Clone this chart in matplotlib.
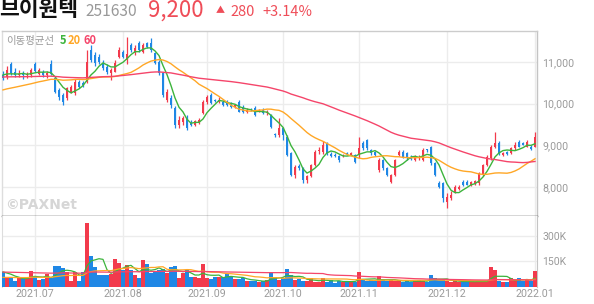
import numpy as np
import matplotlib
matplotlib.use("Agg")
import matplotlib.pyplot as plt

# ---------------- data ----------------
opens = [10700, 10650, 10960, 10770, 10680, 10720, 10680, 10700, 10950, 10720,
         10760, 10680, 10950, 10610, 10330, 10210, 10130, 10290, 10250, 10530,
         10500, 10530, 11290, 11170, 11130, 10970, 10890, 10730, 10770, 11130,
         11250, 11050, 11400, 11210, 11450, 11250, 11450, 11450, 11210, 11010,
         10730, 10090, 10130, 9890, 9490, 9570, 9650, 9530, 9490, 9560,
         9770, 10050, 10210, 10090, 10040, 10050, 10040, 10010, 9930, 10050,
         9930, 9810, 9870, 9890, 9820, 9850, 9780, 9730, 9280, 9250,
         9410, 9210, 8810, 8290, 8500, 8450, 8180, 8260, 8530, 8870,
         8850, 9050, 8790, 8780, 8740, 8750, 8800, 8780, 8770, 8770,
         9050, 9130, 8890, 8850, 8410, 8650, 8450, 8130, 8290, 8770,
         8850, 8810, 8700, 8650, 8690, 8650, 8900, 8970, 8570, 8090,
         8090, 7650, 7730, 7890, 7960, 8130, 8130, 8050, 8080, 8090,
         8290, 8530, 8690, 8970, 9050, 8770, 8840, 8810, 8930, 9090,
         9050, 8970, 8960, 8970]
highs = [10780, 10900, 11000, 10850, 10800, 10780, 10750, 10850, 11000, 10850,
         10800, 10780, 11050, 10650, 10380, 10250, 10400, 10450, 10600, 10560,
         10550, 11300, 11400, 11250, 11200, 11050, 10950, 10850, 11050, 11350,
         11300, 11600, 11450, 11400, 11500, 11450, 11480, 11570, 11250, 11050,
         10760, 10350, 10200, 9950, 9700, 9700, 9720, 9600, 9620, 9650,
         10100, 10200, 10250, 10120, 10150, 10100, 10080, 10050, 10000, 10100,
         9960, 9900, 9900, 9950, 9880, 9900, 9850, 9760, 9300, 9650,
         9450, 9250, 8850, 8520, 8550, 8480, 8300, 8560, 8880, 8950,
         9100, 9080, 8830, 8820, 8780, 8800, 8850, 8840, 8800, 9210,
         9100, 9150, 8920, 8870, 8700, 8680, 8480, 8320, 8680, 8880,
         8880, 8850, 8760, 8760, 8760, 8930, 8920, 8990, 8600, 8150,
         8120, 7850, 7900, 8050, 8050, 8180, 8170, 8150, 8170, 8360,
         8550, 8760, 9000, 9330, 9100, 8850, 8870, 8960, 9080, 9130,
         9090, 9130, 9000, 9330]
lows = [10580, 10600, 10700, 10650, 10650, 10600, 10620, 10650, 10750, 10700,
        10650, 10620, 10700, 10250, 10100, 9980, 10100, 10250, 10200, 10380,
        10400, 10500, 11000, 10900, 10950, 10820, 10720, 10560, 10750, 11100,
        11100, 10950, 11250, 11180, 11250, 11220, 11330, 11250, 10950, 10700,
        10150, 10050, 9900, 9420, 9420, 9500, 9380, 9460, 9460, 9520,
        9750, 10000, 10000, 10040, 10020, 9950, 9950, 9900, 9900, 9800,
        9780, 9780, 9820, 9700, 9800, 9750, 9720, 9420, 9200, 9200,
        9130, 8740, 8270, 8220, 8420, 8100, 8100, 8230, 8500, 8800,
        8800, 8780, 8720, 8720, 8600, 8720, 8760, 8760, 8580, 8700,
        8900, 8900, 8780, 8750, 8350, 8420, 8260, 8100, 8260, 8740,
        8700, 8660, 8640, 8620, 8660, 8620, 8850, 8540, 8260, 7980,
        7650, 7490, 7700, 7860, 7930, 8030, 8040, 8020, 8060, 8060,
        8260, 8500, 8660, 8940, 8780, 8740, 8780, 8790, 8900, 8950,
        9000, 8950, 8900, 8950]
closes = [10620, 10820, 10730, 10680, 10720, 10680, 10720, 10800, 10780, 10800,
          10680, 10740, 10720, 10290, 10170, 10050, 10370, 10410, 10530, 10410,
          10450, 11010, 11050, 10970, 11010, 10850, 10770, 10810, 10970, 11290,
          11130, 11200, 11290, 11330, 11290, 11410, 11370, 11290, 10970, 10730,
          10210, 10290, 9970, 9490, 9610, 9650, 9410, 9490, 9590, 9620,
          10050, 10170, 10010, 10070, 10090, 9970, 9980, 9930, 9960, 9810,
          9810, 9850, 9840, 9730, 9850, 9770, 9800, 9450, 9250, 9410,
          9250, 8770, 8290, 8490, 8450, 8180, 8260, 8530, 8850, 8900,
          9010, 8810, 8750, 8740, 8650, 8780, 8790, 8820, 8610, 8930,
          8930, 8930, 8810, 8770, 8650, 8450, 8290, 8290, 8650, 8850,
          8730, 8690, 8680, 8730, 8730, 8890, 8890, 8570, 8290, 8010,
          7730, 7770, 7810, 8010, 8010, 8050, 8060, 8130, 8150, 8330,
          8530, 8730, 8970, 9050, 8810, 8810, 8800, 8930, 9010, 8970,
          9010, 9090, 8920, 9200]
volumes_k = [88, 54, 54, 35, 54, 52, 52, 92, 60, 40, 46, 75, 50,
             121, 121, 108, 88, 35, 88, 35, 88,
             371,
             179, 117, 69, 69, 69, 75, 165, 140, 100,
             127, 98, 69, 52, 156, 133, 79, 88, 100, 104,
             79, 114, 121, 52, 79, 98, 60, 60, 52, 133,
             52, 46, 58, 58, 58, 75, 60, 46, 46, 52,
             35, 35, 35, 30, 35, 40, 88, 60, 40, 52, 104,
             69, 40, 46, 35, 35, 52, 30, 30, 52, 30, 40, 25, 35, 30, 30, 35, 30,
             88,
             40, 35, 40, 35, 63, 40, 35, 40, 35, 40, 30,
             35, 30, 35, 40, 35, 30, 69, 52, 40, 40,
             35, 30, 35, 30, 30, 35, 30, 30, 35, 30, 35,
             114, 98,
             35, 30, 30, 52, 40, 52, 35, 40, 35,
             94]

month_labels = ["2021.07", "2021.08", "2021.09", "2021.10", "2021.11", "2021.12", "2022.01"]
month_pos = [8, 30, 51, 70, 89, 111, 133]

price_ticks = [8000, 9000, 10000, 11000]
vol_ticks_k = [150, 300]

# moving-average levels read at the left edge of the chart (warm-up)
ma_windows = [5, 20, 60]
price_ma_start = [10690, 10330, 10640]
vol_ma_start_k = [88, 56, 87]

name = "브이원텍"
code = "251630"
last_price = "9,200"
change = "280"
change_pct = "+3.14%"

# ---------------- style ----------------
RED = "#f23a4c"
BLUE = "#1f87e5"
MA_COLORS = ["#3cb43c", "#ffa726", "#f5456a"]
GRID = "#ececec"
TICK = "#9a9a9a"
KR = ["Noto Sans CJK KR", "DejaVu Sans"]


def moving_average(vals, n, start):
    vals = np.asarray(vals, dtype=float)
    seed = (n * start - vals[0]) / (n - 1)
    padded = np.concatenate([np.full(n - 1, seed), vals])
    return np.convolve(padded, np.ones(n) / n, mode="valid")


W, H = 594, 304
fig = plt.figure(figsize=(W / 100, H / 100), dpi=100)
ax = fig.add_axes([2 / W, 88 / H, 535 / W, 185 / H])
axv = fig.add_axes([2 / W, 17 / H, 535 / W, 71 / H])

x = np.arange(len(closes))
o = np.array(opens, float)
h = np.array(highs, float)
l = np.array(lows, float)
c = np.array(closes, float)
up = c >= o
cols = np.where(up, RED, BLUE)

# candles
ax.vlines(x, l, h, colors=cols, lw=0.9, zorder=3)
body_lo = np.minimum(o, c)
body_h = np.maximum(np.abs(c - o), 18)
ax.bar(x, body_h, bottom=body_lo, width=0.72, color=cols, lw=0, zorder=4)

for n, s, col in zip(ma_windows, price_ma_start, MA_COLORS):
    ax.plot(x, moving_average(c, n, s), color=col, lw=1.0, zorder=5)

ax.set_xlim(-0.25, 133.5)
ax.set_ylim(7304, 11744)
ax.set_yticks(price_ticks)
ax.set_yticklabels([f"{t:,}" for t in price_ticks])
ax.yaxis.tick_right()
ax.set_xticks(month_pos)
ax.set_xticklabels([])
ax.tick_params(axis="both", length=0)
ax.tick_params(axis="y", pad=4, labelsize=7.7, labelcolor=TICK)
for lab in ax.get_yticklabels():
    lab.set_family("Roboto")
ax.grid(True, color=GRID, lw=1)
ax.set_axisbelow(True)
ax.spines["top"].set_color("#cccccc")
ax.spines["left"].set_color("#dddddd")
ax.spines["right"].set_color("#c4c4c4")
ax.spines["bottom"].set_color("#333333")
for s in ax.spines.values():
    s.set_linewidth(1)

# volume
v = np.array(volumes_k, float) * 1000
axv.bar(x, v, width=0.76, color=cols, lw=0, zorder=3)
for n, s, col in zip(ma_windows, vol_ma_start_k, MA_COLORS):
    axv.plot(x, moving_average(v, n, s * 1000), color=col, lw=0.9, zorder=4)
axv.set_xlim(-0.25, 133.5)
axv.set_ylim(0, 413600)
axv.set_yticks([t * 1000 for t in vol_ticks_k])
axv.set_yticklabels([f"{t}K" for t in vol_ticks_k])
axv.yaxis.tick_right()
axv.set_xticks(month_pos)
axv.set_xticklabels(month_labels)
axv.tick_params(axis="both", length=0)
axv.tick_params(axis="y", pad=4, labelsize=7.5, labelcolor=TICK)
axv.tick_params(axis="x", pad=1.5, labelsize=7.7, labelcolor=TICK)
for lab in axv.get_yticklabels() + axv.get_xticklabels():
    lab.set_family("Roboto")
axv.grid(True, color=GRID, lw=1)
axv.set_axisbelow(True)
axv.spines["top"].set_visible(False)
axv.spines["bottom"].set_visible(False)
axv.spines["left"].set_color("#dddddd")
axv.spines["right"].set_color("#c4c4c4")


def P(px, py):
    return px / W, 1 - py / H


# header
fig.text(*P(-1, 10), name, family=KR, fontsize=15.5, fontweight="bold",
         color="#111111", va="center", ha="left")
fig.text(*P(85, 12), code, family=KR, fontsize=11.2, color="#999999",
         va="center", ha="left")
fig.text(*P(148, 10), last_price, family=KR, fontsize=16, color="#ef4d58",
         va="center", ha="left")
fig.text(*P(216, 11), "▲", family=KR, fontsize=6.5, color="#ef4d58",
         va="center", ha="left")
fig.text(*P(230, 12), change, family=KR, fontsize=10.5, color="#ef4d58",
         va="center", ha="left")
fig.text(*P(262, 12), change_pct, family=KR, fontsize=10.5, color="#ef4d58",
         va="center", ha="left")

# MA legend
fig.text(*P(6, 41), "이동평균선", family=KR, fontsize=7.5, color="#999999",
         va="center", ha="left")
for xx, lab, col in zip([60, 68, 83], [str(w) for w in ma_windows], MA_COLORS):
    fig.text(*P(xx, 41), lab, family=KR, fontsize=8, fontweight="bold",
             color=col, va="center", ha="left")

# watermark
fig.text(*P(5, 205), "©PAXNet", fontsize=10, fontweight="bold",
         color="#d6d6d6", va="center", ha="left", family="DejaVu Sans")

fig.savefig("out.png", dpi=100)
